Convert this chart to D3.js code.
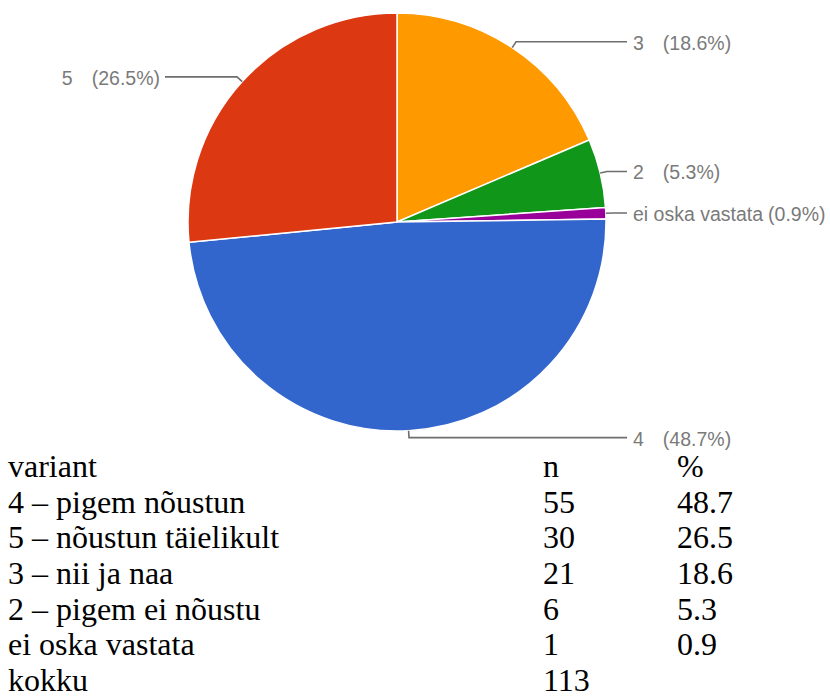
<!DOCTYPE html>
<html>
<head>
<meta charset="utf-8">
<script src="https://cdn.jsdelivr.net/npm/d3@7"></script>
<style>
  html, body { margin: 0; padding: 0; background: #fff; }
  svg { display: block; }
  .tbl text { font-family: "Times New Roman", "Liberation Serif", "DejaVu Serif", Times, serif; font-size: 32px; fill: #000; }
  .lbl { font-family: Arial, "Liberation Sans", sans-serif; font-size: 19.5px; fill: #7a7a7a; }
</style>
</head>
<body>
<div id="chart"></div>
<script>
// table rows (as listed under the chart)
const variants = ["4 – pigem nõustun", "5 – nõustun täielikult", "3 – nii ja naa", "2 – pigem ei nõustu", "ei oska vastata"];
const keys = ["4", "5", "3", "2", "ei oska vastata"];
const counts = [55, 30, 21, 6, 1];
const percents = ["48.7", "26.5", "18.6", "5.3", "0.9"];
const total = 113;

// order of the slices, clockwise from 12 o'clock
const sliceOrder = ["3", "2", "ei oska vastata", "4", "5"];
const sliceColors = { "3": "#ff9900", "2": "#109618", "ei oska vastata": "#990099", "4": "#3366cc", "5": "#dc3912" };

const width = 830, height = 700;
const cx = 397, cy = 222, radius = 209;

const svg = d3.select("#chart").append("svg")
  .attr("width", width)
  .attr("height", height);

const pieData = sliceOrder.map((k) => {
  const i = keys.indexOf(k);
  return { key: k, n: counts[i], pct: percents[i] };
});

const pie = d3.pie().sort(null).value((d) => d.n);
const arc = d3.arc().innerRadius(0).outerRadius(radius);
const arcs = pie(pieData);

const g = svg.append("g").attr("transform", "translate(" + cx + "," + cy + ")");

g.selectAll("path")
  .data(arcs)
  .join("path")
  .attr("d", arc)
  .attr("fill", (d) => sliceColors[d.data.key])
  .attr("stroke", "#fff")
  .attr("stroke-width", 1.5);

// leader lines + labels
const rightEnd = 627, leftEnd = 165;
const labels = g.append("g");

arcs.forEach((d) => {
  const a = (d.startAngle + d.endAngle) / 2;
  const sx = Math.sin(a), sy = -Math.cos(a);
  const p0 = [sx * radius, sy * radius];
  const p1 = [sx * (radius + 7), sy * (radius + 7)];
  const right = sx >= 0;
  const endX = (right ? rightEnd : leftEnd) - cx;

  labels.append("path")
    .attr("d", d3.line()([p0, p1, [endX, p1[1]]]))
    .attr("fill", "none")
    .attr("stroke", "#6e6e6e")
    .attr("stroke-width", 1.6);

  const t = labels.append("text")
    .attr("class", "lbl")
    .attr("x", right ? endX + 6 : endX - 5)
    .attr("y", p1[1] + 1)
    .attr("dominant-baseline", "central")
    .attr("text-anchor", right ? "start" : "end");

  t.append("tspan").text(d.data.key);
  t.append("tspan")
    .attr("dx", d.data.key.length > 1 ? 5 : 19)
    .text("(" + d.data.pct + "%)");
});

// table
const colX = [8, 543, 677];
const rowY = d3.scaleLinear().domain([0, 6]).range([477, 691]);

const rows = [["variant", "n", "%"]]
  .concat(variants.map((v, i) => [v, String(counts[i]), percents[i]]))
  .concat([["kokku", String(total), ""]]);

const table = svg.append("g").attr("class", "tbl");

rows.forEach((r, i) => {
  r.forEach((cell, j) => {
    table.append("text")
      .attr("x", colX[j])
      .attr("y", rowY(i))
      .text(cell);
  });
});
</script>
</body>
</html>
